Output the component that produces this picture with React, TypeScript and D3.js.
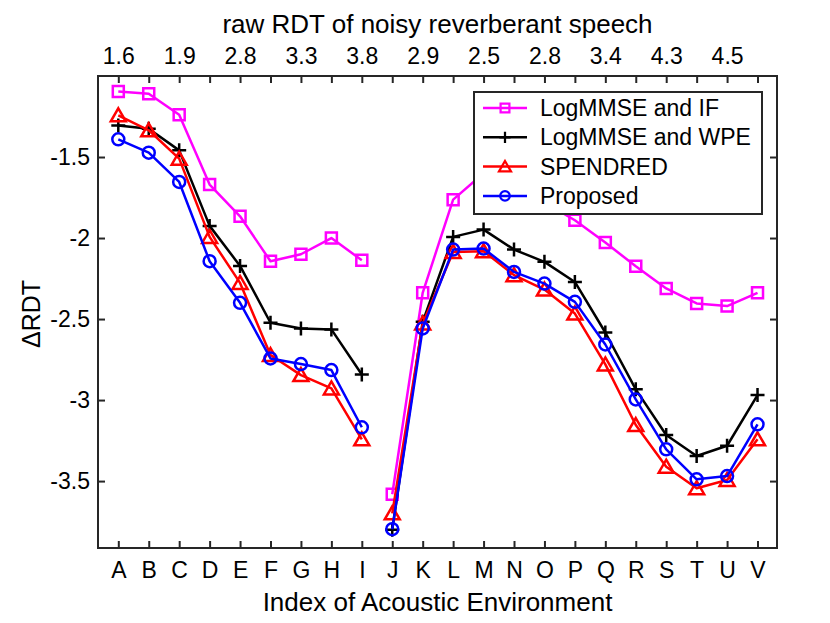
import React, { useEffect, useRef } from 'react';
import * as d3 from 'd3';

// environment index labels (bottom axis)
const categories = ['A', 'B', 'C', 'D', 'E', 'F', 'G', 'H', 'I', 'J', 'K', 'L', 'M', 'N', 'O', 'P', 'Q', 'R', 'S', 'T', 'U', 'V'];

// raw RDT values shown on the top axis (every second environment)
const topTickLabels = ['1.6', '1.9', '2.8', '3.3', '3.8', '2.9', '2.5', '2.8', '3.4', '4.3', '4.5'];

// delta RDT per method
const logmmseIF = [-1.095, -1.109, -1.239, -1.67, -1.866, -2.143, -2.1, -2.0, -2.137, -3.581, -2.338, -1.763, -1.6, -1.66, -1.78, -1.89, -2.028, -2.174, -2.311, -2.404, -2.42, -2.338];
const logmmseWPE = [-1.305, -1.325, -1.459, -1.925, -2.172, -2.523, -2.558, -2.564, -2.842, -3.8, -2.517, -1.993, -1.948, -2.071, -2.147, -2.271, -2.583, -2.934, -3.216, -3.345, -3.282, -2.969];
const spendred = [-1.243, -1.335, -1.51, -1.993, -2.277, -2.722, -2.846, -2.928, -3.242, -3.699, -2.527, -2.086, -2.081, -2.229, -2.318, -2.466, -2.78, -3.154, -3.411, -3.544, -3.493, -3.242];
const proposed = [-1.391, -1.473, -1.654, -2.143, -2.4, -2.743, -2.778, -2.815, -3.168, -3.797, -2.558, -2.071, -2.065, -2.209, -2.281, -2.394, -2.657, -2.996, -3.304, -3.489, -3.469, -3.15];

const yTicks = [-3.5, -3, -2.5, -2, -1.5];

const seriesNames = ['LogMMSE and IF', 'LogMMSE and WPE', 'SPENDRED', 'Proposed'];
const seriesValues = [logmmseIF, logmmseWPE, spendred, proposed];
const seriesColors = ['#ff00ff', '#000000', '#ff0000', '#0000ff'];
const seriesMarkers = ['square', 'plus', 'triangle', 'circle'];

// the two groups of environments are drawn as separate line pieces
const groups = [[0, 9], [9, 22]];

const FONT = '"Liberation Sans", Arial, Helvetica, sans-serif';
const AXIS = '#262626';

const markerPath = (type: string) => {
  if (type === 'square') return 'M-5.5,-5.5H5.5V5.5H-5.5Z';
  if (type === 'plus') return 'M-7,0H7M0,-7V7';
  if (type === 'triangle') return 'M0,-7L7.5,6H-7.5Z';
  return d3.symbol(d3.symbolCircle, 113)() as string;
};

const App: React.FC = () => {
  const svgRef = useRef<SVGSVGElement | null>(null);

  useEffect(() => {
    const svg = d3.select(svgRef.current);
    svg.selectAll('*').remove();

    const left = 98, right = 777, top = 76, bottom = 548;

    const x = d3.scaleLinear().domain([-0.667, 21.64]).range([left, right]);
    const y = d3.scaleLinear().domain([-3.913, -1.0]).range([bottom, top]);
    const idx = categories.map((_, i) => i);

    // bottom axis
    const bAxis = svg.append('g').attr('transform', `translate(0,${bottom})`)
      .call(d3.axisBottom(x).tickValues(idx).tickFormat((d) => categories[d as number]).tickSizeInner(-7).tickSizeOuter(0).tickPadding(14));
    // top axis
    const tAxis = svg.append('g').attr('transform', `translate(0,${top})`)
      .call(d3.axisTop(x).tickValues(idx).tickFormat((d) => ((d as number) % 2 === 0 ? topTickLabels[(d as number) / 2] : '')).tickSizeInner(-7).tickSizeOuter(0).tickPadding(12));
    // left / right axis
    const lAxis = svg.append('g').attr('transform', `translate(${left},0)`)
      .call(d3.axisLeft(y).tickValues(yTicks).tickFormat((d) => String(d)).tickSizeInner(-7).tickSizeOuter(0).tickPadding(8));
    const rAxis = svg.append('g').attr('transform', `translate(${right},0)`)
      .call(d3.axisRight(y).tickValues(yTicks).tickFormat(() => '').tickSizeInner(-7).tickSizeOuter(0));

    [bAxis, tAxis, lAxis, rAxis].forEach((g) => {
      g.select('.domain').remove();
      g.selectAll('.tick line').attr('stroke', AXIS).attr('stroke-width', 2);
      g.selectAll('.tick text').attr('fill', '#000').attr('font-family', FONT).attr('font-size', 23);
    });

    seriesValues.forEach((vals, s) => {
      const g = svg.append('g');
      groups.forEach(([a, b]) => {
        const pts = vals.slice(a, b).map((v, k) => [x(a + k), y(v)] as [number, number]);
        g.append('path')
          .attr('d', d3.line()(pts))
          .attr('fill', 'none')
          .attr('stroke', seriesColors[s])
          .attr('stroke-width', 2.5)
          .attr('stroke-linejoin', 'round');
      });
      g.selectAll('.m')
        .data(vals)
        .enter()
        .append('path')
        .attr('transform', (d, i) => `translate(${x(i)},${y(d)})`)
        .attr('d', markerPath(seriesMarkers[s]))
        .attr('fill', 'none')
        .attr('stroke', seriesColors[s])
        .attr('stroke-width', 2.5);
    });

    // plot box
    svg.append('rect')
      .attr('x', left).attr('y', top)
      .attr('width', right - left).attr('height', bottom - top)
      .attr('fill', 'none').attr('stroke', AXIS).attr('stroke-width', 2);

    // legend
    const lg = svg.append('g');
    lg.append('rect')
      .attr('x', 474).attr('y', 92).attr('width', 288).attr('height', 122)
      .attr('fill', '#fff').attr('stroke', AXIS).attr('stroke-width', 2);
    seriesNames.forEach((name, s) => {
      const cy = 108 + s * 29.3;
      lg.append('line').attr('x1', 483).attr('x2', 527).attr('y1', cy).attr('y2', cy)
        .attr('stroke', seriesColors[s]).attr('stroke-width', 2.5);
      lg.append('path').attr('transform', `translate(505,${cy}) scale(0.8)`)
        .attr('d', markerPath(seriesMarkers[s]))
        .attr('fill', 'none').attr('stroke', seriesColors[s]).attr('stroke-width', 2.8);
      lg.append('text').attr('x', 540).attr('y', cy + 8)
        .attr('font-family', FONT).attr('font-size', 23).text(name);
    });

    // axis titles
    svg.append('text').attr('x', (left + right) / 2).attr('y', 33)
      .attr('text-anchor', 'middle').attr('font-family', FONT).attr('font-size', 26)
      .text('raw RDT of noisy reverberant speech');
    svg.append('text').attr('x', (left + right) / 2).attr('y', 611)
      .attr('text-anchor', 'middle').attr('font-family', FONT).attr('font-size', 26)
      .text('Index of Acoustic Environment');
    svg.append('text').attr('transform', `translate(40,314) rotate(-90)`)
      .attr('text-anchor', 'middle').attr('font-family', FONT).attr('font-size', 25)
      .text('\u0394RDT');
  }, []);

  return (
    <svg
      ref={svgRef}
      width={830}
      height={623}
      style={{ position: 'absolute', left: 0, top: 0, background: '#fff' }}
    />
  );
};

export default App;
